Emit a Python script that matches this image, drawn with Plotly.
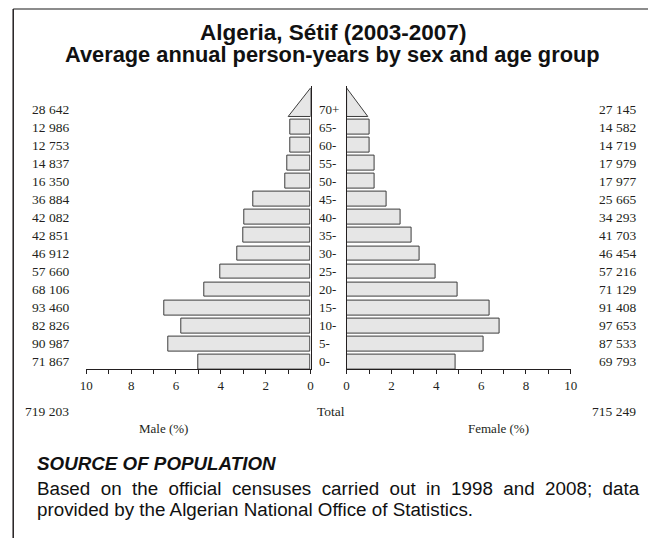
"""Pyramide des âges Sétif 2003-2007 : barres grises, colonnes d'effectifs de chaque côté."""
import plotly.graph_objects as go

# Groupes d'âge, du bas vers le haut (le dernier est ouvert -> triangle).
AGE_GROUPS = ["0-", "5-", "10-", "15-", "20-", "25-", "30-", "35-",
              "40-", "45-", "50-", "55-", "60-", "65-", "70+"]
MALE = [71867, 90987, 82826, 93460, 68106, 57660, 46912, 42851,
        42082, 36884, 16350, 14837, 12753, 12986, 28642]
FEMALE = [69793, 87533, 97653, 91408, 71129, 57216, 46454, 41703,
          34293, 25665, 17977, 17979, 14719, 14582, 27145]
MALE_TOTAL = 719203
FEMALE_TOTAL = 715249
TICKS = [0, 2, 4, 6, 8, 10]

W, H = 654, 538
# la capture écrase légèrement l'axe horizontal : on compense
SX, OX = 0.979, 6.8
SERIF = "Liberation Serif, Times New Roman, serif"
SANS = "Liberation Sans, Arial, Helvetica, sans-serif"
BAR_FILL = "#e6e6e6"
BAR_LINE = "#3c3c3c"
INK = "#231f20"


def px_x(p):
    return (p - OX) / SX / W


def px_y(p):
    return 1 - p / H


def fmt(v):
    return f"{v:,}".replace(",", " ")


grand = MALE_TOTAL + FEMALE_TOTAL
male_pct = [v / grand * 100 for v in MALE]
female_pct = [v / grand * 100 for v in FEMALE]
rows = list(range(len(AGE_GROUPS)))
n_bar = len(AGE_GROUPS) - 1

fig = go.Figure()
bar_style = dict(color=BAR_FILL, line=dict(color=BAR_LINE, width=1))
fig.add_trace(go.Bar(x=male_pct[:n_bar], y=rows[:n_bar], orientation="h", width=0.82,
                     marker=bar_style, xaxis="x", yaxis="y"))
fig.add_trace(go.Bar(x=female_pct[:n_bar], y=rows[:n_bar], orientation="h", width=0.82,
                     marker=bar_style, xaxis="x2", yaxis="y2"))

# groupe ouvert 70+ : triangle posé sur la dernière ligne
top = rows[-1]
base = top - 0.41
apex = top + 1.17
for pct, xa, ya in [(male_pct[-1], "x", "y"), (female_pct[-1], "x2", "y2")]:
    fig.add_trace(go.Scatter(
        x=[0, pct / 2, 0, 0], y=[apex, base, base, apex], mode="lines",
        fill="toself", fillcolor=BAR_FILL, line=dict(color=BAR_LINE, width=1),
        xaxis=xa, yaxis=ya, hoverinfo="skip"))

ydom = [px_y(369.3), px_y(85.6)]
xax = dict(tickvals=TICKS, ticks="outside", ticklen=4, tickcolor=INK,
           minor=dict(dtick=1, ticks="outside", ticklen=4, tickcolor=INK),
           showline=True, linecolor=INK, linewidth=1, showgrid=False, zeroline=False,
           tickfont=dict(family=SERIF, size=13, color=INK))
yax = dict(range=[-0.41, 15.3], domain=ydom, showticklabels=False, showgrid=False,
           zeroline=False, showline=True, linecolor=INK, linewidth=1)

ann = []
for i in rows:
    ann.append(dict(x=px_x(71), xref="paper", xanchor="right", y=i, yref="y",
                    text=fmt(MALE[i]), showarrow=False,
                    font=dict(family=SERIF, size=13.5, color=INK)))
    ann.append(dict(x=px_x(637), xref="paper", xanchor="right", y=i, yref="y",
                    text=fmt(FEMALE[i]), showarrow=False,
                    font=dict(family=SERIF, size=13.5, color=INK)))
    ann.append(dict(x=px_x(316), xref="paper", xanchor="left", y=i, yref="y",
                    text=AGE_GROUPS[i], showarrow=False,
                    font=dict(family=SERIF, size=13, color=INK)))


def note(text, x, y, anchor, font):
    ann.append(dict(x=px_x(x), y=px_y(y), xref="paper", yref="paper", xanchor=anchor,
                    yanchor="middle", text=text, showarrow=False, font=font))


serif = dict(family=SERIF, size=13.5, color=INK)
body_font = dict(family=SANS, size=18.8, color="#111")
note("<b>Algeria, Sétif (2003-2007)</b>", 332, 32.5, "center",
     dict(family=SANS, size=22.5, color="#111"))
note("<b>Average annual person-years by sex and age group</b>", 332, 54.5, "center",
     dict(family=SANS, size=21.8, color="#111"))
note(fmt(MALE_TOTAL), 71, 411, "right", serif)
note("Total", 314, 411, "left", serif)
note(fmt(FEMALE_TOTAL), 637, 411, "right", serif)
note("Male (%)", 163, 428, "center", dict(family=SERIF, size=13, color=INK))
note("Female (%)", 498, 428, "center", dict(family=SERIF, size=13, color=INK))
note("<b><i>SOURCE OF POPULATION</i></b>", 35, 463, "left", body_font)
# première ligne justifiée dans l'original : espaces élargis
line1 = "Based on the official censuses carried out in 1998 and 2008; data"
note(line1.replace(" ", " \u00a0"), 35, 488, "left", body_font)
note("provided by the Algerian National Office of Statistics.", 35, 509, "left", body_font)

fig.update_layout(
    width=W, height=H, margin=dict(l=0, r=0, t=0, b=0),
    paper_bgcolor="white", plot_bgcolor="white", showlegend=False, bargap=0,
    xaxis=dict(domain=[px_x(86), px_x(310)], range=[10, 0], anchor="y", **xax),
    xaxis2=dict(domain=[px_x(346), px_x(570)], range=[0, 10], anchor="y2", **xax),
    yaxis=dict(anchor="x", side="right", **yax),
    yaxis2=dict(anchor="x2", side="left", **yax),
    annotations=ann,
    shapes=[
        dict(type="line", xref="paper", yref="paper", x0=px_x(13), x1=1,
             y0=px_y(9), y1=px_y(9), line=dict(color="#8c8c8c", width=2)),
        dict(type="line", xref="paper", yref="paper", x0=px_x(13), x1=px_x(13),
             y0=px_y(9), y1=0, line=dict(color=INK, width=1.5)),
    ],
)

fig.write_html("out.html", config={"displayModeBar": False},
               post_script="document.body.style.margin='0';document.body.style.overflow='hidden';")
